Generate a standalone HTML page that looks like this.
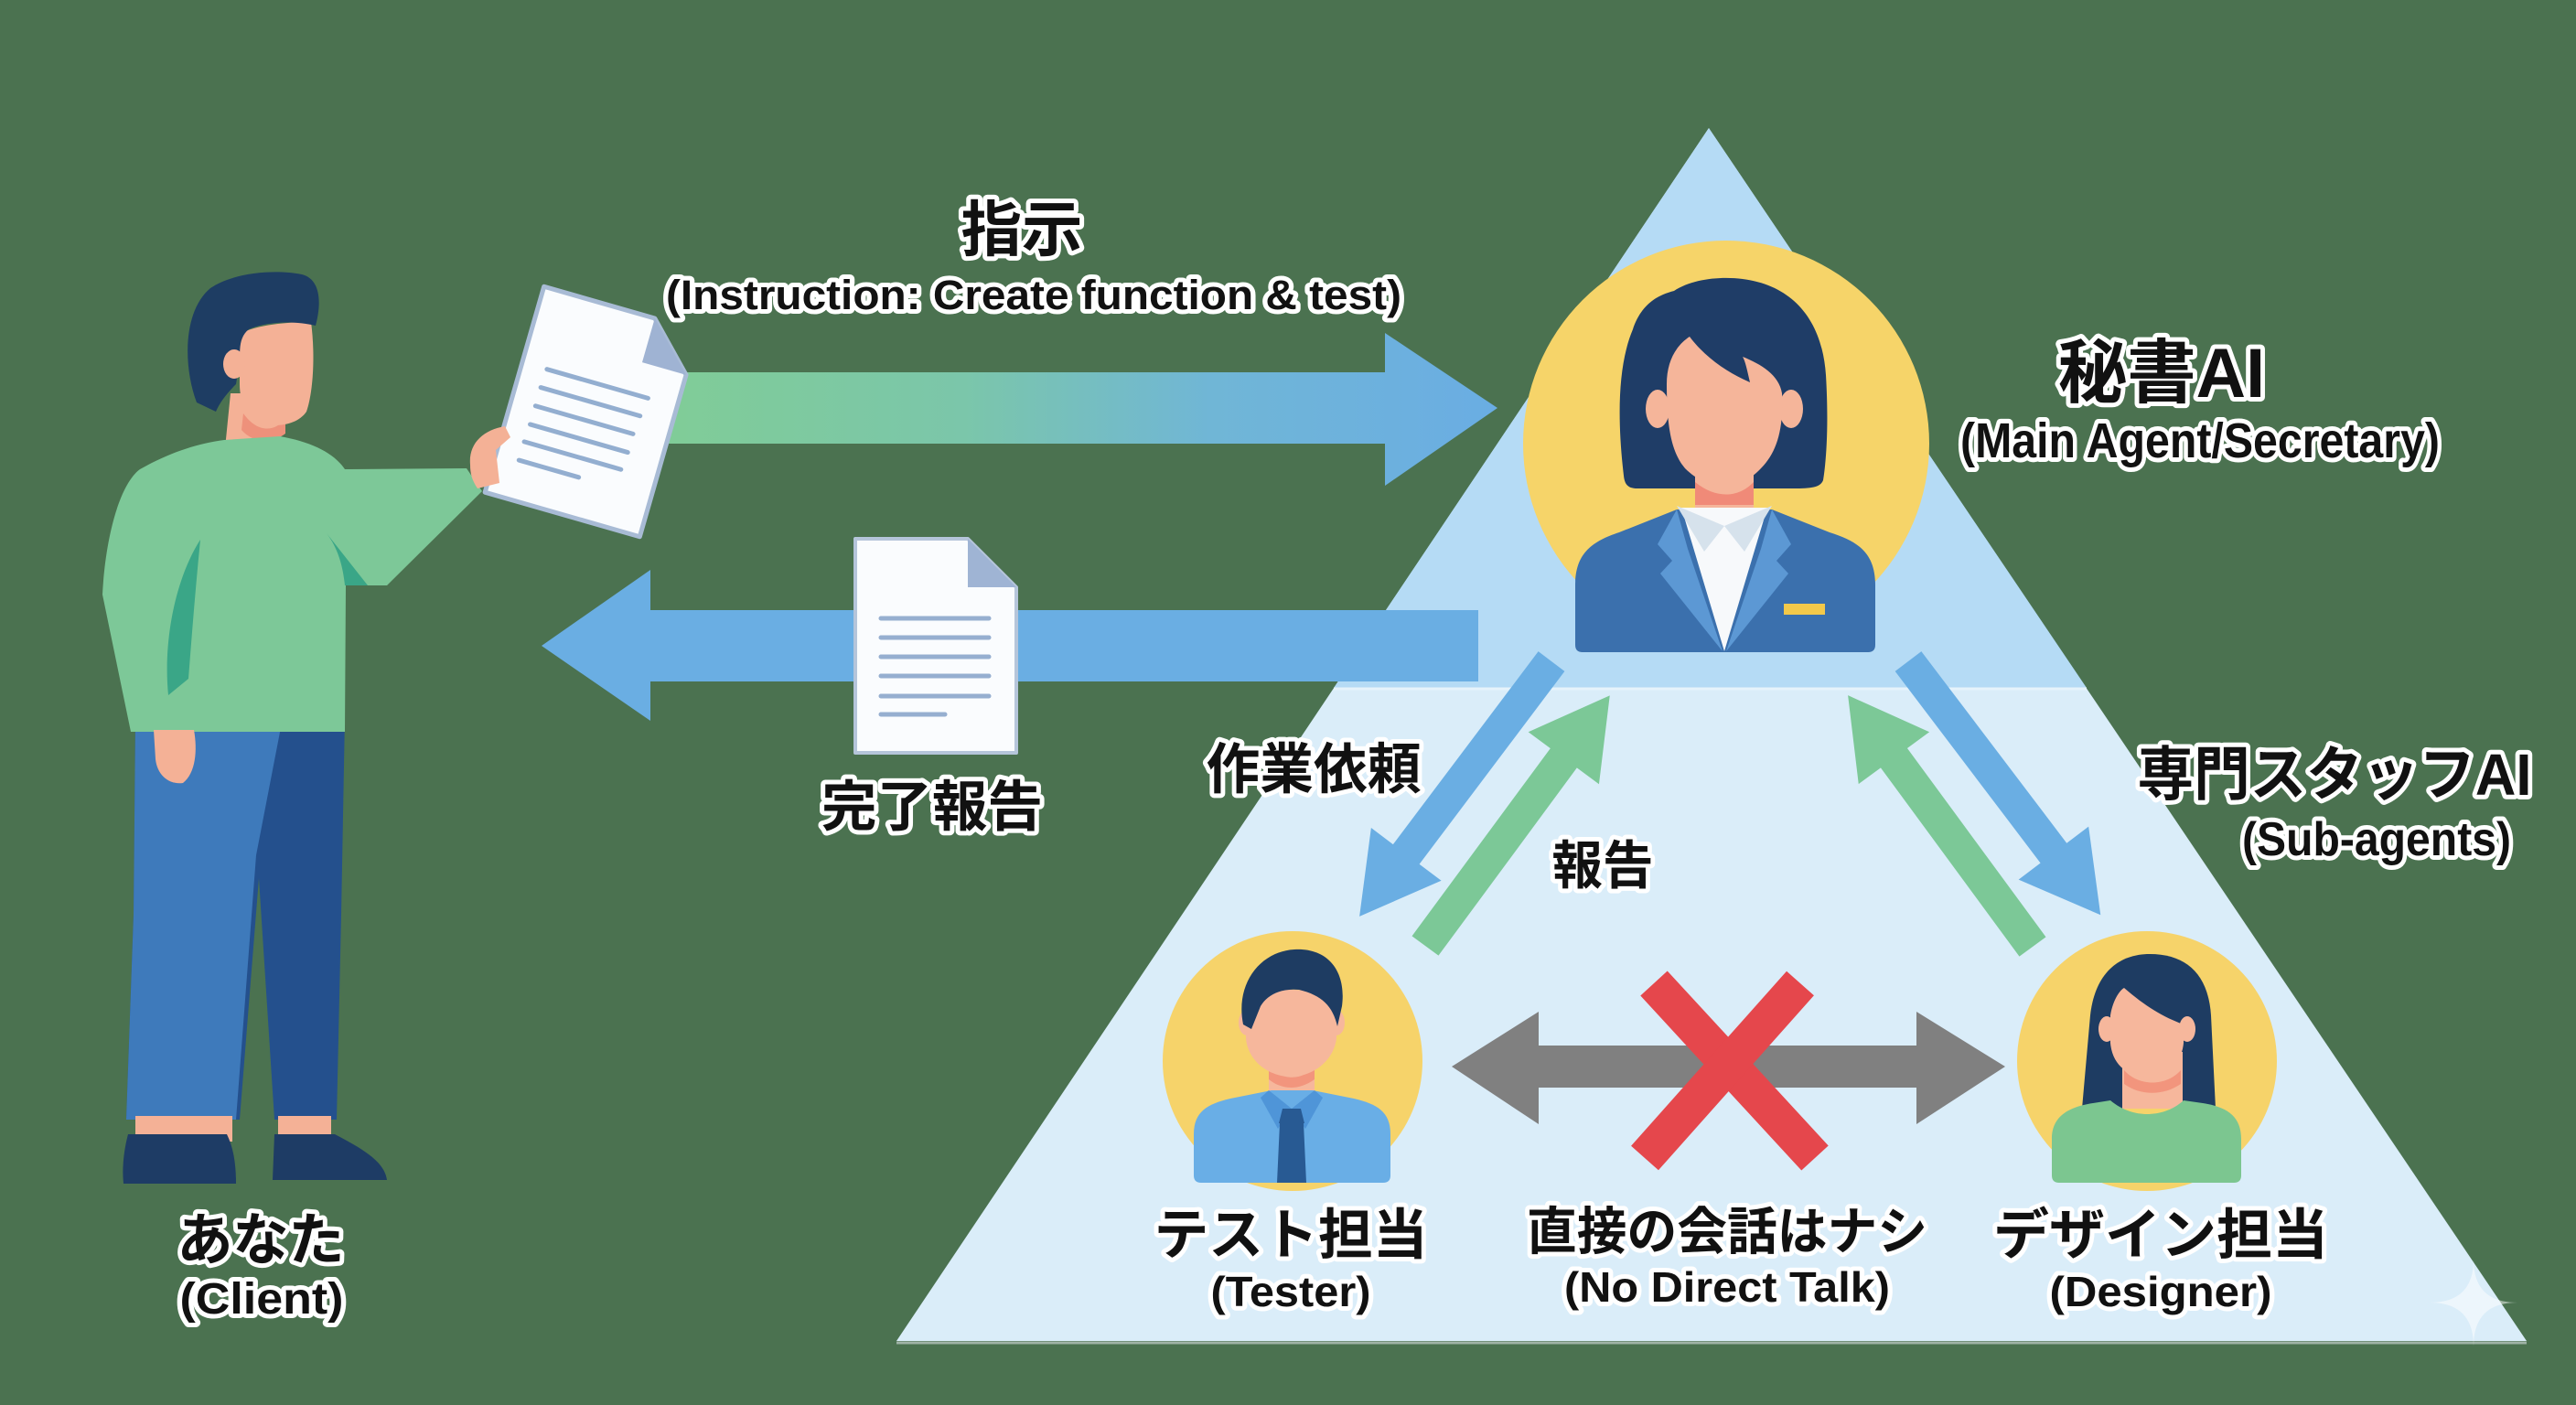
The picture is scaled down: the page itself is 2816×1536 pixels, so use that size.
<!DOCTYPE html>
<html><head><meta charset="utf-8"><style>
html,body{margin:0;padding:0;background:#4b7250;}
svg{display:block;}
.t{font-family:"Liberation Sans","Noto Sans CJK JP",sans-serif;font-weight:bold;fill:#111;stroke:#fff;stroke-width:10;stroke-linejoin:round;paint-order:stroke fill;text-anchor:middle;}
</style></head><body>
<svg width="2816" height="1536" viewBox="0 0 2816 1536" xmlns="http://www.w3.org/2000/svg">
<defs>
<linearGradient id="g1" gradientUnits="userSpaceOnUse" x1="740" y1="0" x2="1637" y2="0">
<stop offset="0" stop-color="#80cc98"/><stop offset="0.35" stop-color="#7bc6aa"/><stop offset="0.65" stop-color="#70b6d6"/><stop offset="1" stop-color="#6aade3"/>
</linearGradient>
</defs>
<rect width="2816" height="1536" fill="#4b7250"/>

<!-- triangle -->
<polygon points="1868,140 2762,1466 980,1466" fill="#daedf9"/>
<polygon points="1868,140 2281,752 1458,752" fill="#b5dbf5"/>
<line x1="1458" y1="753" x2="2281" y2="753" stroke="#e6f3fb" stroke-width="3"/>
<line x1="980" y1="1468" x2="2762" y2="1468" stroke="#9fb3a6" stroke-width="3"/>

<!-- top arrow -->
<polygon points="730,407 1514,407 1514,364 1637,446 1514,531 1514,485 730,485" fill="url(#g1)"/>
<!-- left arrow -->
<polygon points="1616,667 711,667 711,623 592,706 711,788 711,745 1616,745" fill="#6aaee3"/>

<!-- doc 2 -->
<path d="M935,589 L1058,589 L1111,642 L1111,823 L935,823 Z" fill="#fafcfe" stroke="#b5c5da" stroke-width="4" stroke-linejoin="round"/>
<path d="M1058,589 L1058,642 L1111,642 Z" fill="#9fb4d4"/>
<g stroke="#96afd0" stroke-width="5" stroke-linecap="round">
<line x1="963" y1="676" x2="1081" y2="676"/><line x1="963" y1="697" x2="1081" y2="697"/>
<line x1="963" y1="718" x2="1081" y2="718"/><line x1="963" y1="739" x2="1081" y2="739"/>
<line x1="963" y1="761" x2="1081" y2="761"/><line x1="963" y1="781" x2="1033" y2="781"/>
</g>

<!-- man -->
<g>
<!-- neck -->
<path d="M252,430 L306,430 L307,490 L246,490 Z" fill="#f4b196"/>
<path d="M266,452 C282,474 300,472 312,458 L312,474 C296,486 276,484 264,470 Z" fill="#ee917b"/>
<!-- pants -->
<path d="M148,790 L377,783 L373,1000 L368,1224 L300,1224 L283,960 L262,1224 L138,1224 L146,1000 Z" fill="#24508d"/>
<path d="M148,790 L308,790 L280,935 L258,1224 L138,1224 L146,1000 Z" fill="#3e7abb"/>
<!-- ankles -->
<rect x="148" y="1220" width="106" height="28" fill="#f4b196"/>
<rect x="304" y="1220" width="58" height="28" fill="#f4b196"/>
<!-- shoes -->
<path d="M140,1240 L248,1240 C256,1256 258,1276 258,1294 L135,1294 C133,1275 136,1255 140,1240 Z" fill="#1e3c65"/>
<path d="M300,1240 L366,1240 C392,1254 420,1268 423,1290 L298,1290 Z" fill="#1e3c65"/>
<!-- sweater -->
<path d="M245,481 L306,477 C340,483 365,495 377,513 L510,512 L527,537 L423,640 L378,640 L377,800 L143,800 L112,650 C115,590 130,530 153,513 C185,495 215,485 245,481 Z" fill="#7dc898"/>
<path d="M219,590 C192,632 178,700 184,760 L206,742 C210,690 214,640 219,590 Z" fill="#3aa687"/>
<path d="M357,583 C370,600 375,620 377,640 L402,640 Z" fill="#3aa687"/>
<!-- left hand -->
<path d="M168,798 L212,798 C216,820 214,845 200,856 C185,858 172,848 170,830 Z" fill="#f4b196"/>
<!-- face -->
<path d="M262,365 C280,355 315,352 340,352 C345,390 342,430 335,450 C325,465 300,468 285,462 C270,455 262,440 262,420 Z" fill="#f4b196"/>
<!-- hair -->
<path d="M215,440 C200,400 200,340 230,315 C255,298 300,294 330,300 C350,305 352,330 345,356 C320,350 290,352 272,360 C262,368 262,380 262,395 L258,420 C248,430 240,440 236,450 Z" fill="#1e3d63"/>
<ellipse cx="256" cy="398" rx="12" ry="16" fill="#f4b196"/>
</g>

<!-- doc 1 -->
<g transform="translate(647,450) rotate(16)">
<path d="M-88,-117 L38,-117 L88,-67 L88,117 L-88,117 Z" fill="#fafcfe" stroke="#a8bbd5" stroke-width="5" stroke-linejoin="round"/>
<path d="M38,-117 L38,-67 L88,-67 Z" fill="#9fb3d3"/>
<g stroke="#93aed0" stroke-width="5" stroke-linecap="round">
<line x1="-60" y1="-31" x2="55" y2="-31"/><line x1="-61" y1="-10" x2="52" y2="-10"/>
<line x1="-61" y1="11" x2="50" y2="11"/><line x1="-61" y1="32" x2="50" y2="32"/>
<line x1="-62" y1="52" x2="48" y2="52"/><line x1="-62" y1="73" x2="6" y2="73"/>
</g>
</g>
<!-- right hand -->
<path d="M514,508 C512,485 528,470 552,466 L558,478 L542,492 L546,528 L522,534 C516,525 514,518 514,508 Z" fill="#f4b196"/>

<!-- secretary -->
<circle cx="1887" cy="485" r="222" fill="#f6d469"/>
<path d="M1775,520 C1768,460 1768,400 1785,360 C1795,330 1815,322 1830,318 C1850,305 1880,302 1905,305 C1960,312 1992,350 1996,410 C1999,460 1997,500 1993,525 C1990,533 1980,534 1960,534 L1790,534 C1780,534 1776,530 1775,520 Z" fill="#1f3d67"/>
<path d="M1853,505 L1917,505 L1917,560 L1853,560 Z" fill="#f5b59a"/>
<path d="M1853,527 C1875,545 1900,545 1917,527 L1917,552 L1853,552 Z" fill="#f08a78"/>
<path d="M1722,712 L1722,640 C1722,605 1740,592 1770,582 L1833,557 L1937,557 L2000,582 C2032,592 2050,605 2050,640 L2050,705 Q2050,713 2042,713 L1730,713 Q1722,713 1722,705 Z" fill="#3b70ad"/>
<polygon points="1838,555 1932,555 1885,712" fill="#f7f9fb"/>
<polygon points="1833,553 1885,575 1863,603" fill="#d6e2ec"/>
<polygon points="1937,553 1885,575 1907,603" fill="#d6e2ec"/>
<polygon points="1833,557 1812,595 1828,613 1815,627 1883,712 1845,600" fill="#5c98d4"/>
<polygon points="1937,557 1958,595 1942,613 1955,627 1887,712 1925,600" fill="#5c98d4"/>
<rect x="1950" y="660" width="45" height="12" fill="#f3c94a"/>
<ellipse cx="1812" cy="447" rx="13" ry="21" fill="#f5b59a"/>
<ellipse cx="1958" cy="447" rx="13" ry="21" fill="#f5b59a"/>
<path d="M1822,420 C1822,395 1832,378 1847,368 C1865,392 1890,408 1913,418 C1910,405 1908,395 1905,390 C1925,398 1945,410 1948,430 C1950,470 1942,495 1925,512 C1910,528 1895,531 1885,531 C1870,531 1855,525 1842,512 C1828,495 1822,470 1822,420 Z" fill="#f5b59a"/>

<!-- triangle arrows -->
<polygon transform="translate(1696,723) rotate(126.97)" points="0,-18 264,-18 264,-48 349,0 264,48 264,18 0,18" fill="#6aaee3"/>
<polygon transform="translate(1558,1034) rotate(-53.6)" points="0,-18 255,-18 255,-48 340,0 255,48 255,18 0,18" fill="#7cc897"/>
<polygon transform="translate(2086,723) rotate(52.83)" points="0,-18 263,-18 263,-48 348,0 263,48 263,18 0,18" fill="#6aaee3"/>
<polygon transform="translate(2222,1035) rotate(-126.3)" points="0,-18 256,-18 256,-48 341,0 256,48 256,18 0,18" fill="#7cc897"/>

<!-- tester -->
<circle cx="1413" cy="1160" r="142" fill="#f6d36a"/>
<rect x="1387" y="1150" width="50" height="55" fill="#f6b79c"/>
<path d="M1387,1165 C1400,1182 1425,1182 1437,1165 L1437,1180 C1420,1192 1402,1192 1387,1180 Z" fill="#f2957d"/>
<path d="M1305,1285 L1305,1240 C1305,1215 1320,1207 1345,1201 L1390,1192 L1435,1192 L1480,1201 C1505,1207 1520,1215 1520,1240 L1520,1285 Q1520,1293 1512,1293 L1313,1293 Q1305,1293 1305,1285 Z" fill="#69aee6"/>
<polygon points="1387,1192 1412,1212 1397,1234 1378,1200" fill="#4f95d8"/>
<polygon points="1437,1192 1412,1212 1427,1234 1446,1200" fill="#4f95d8"/>
<polygon points="1402,1212 1422,1212 1426,1228 1398,1228" fill="#285a93"/>
<polygon points="1399,1228 1425,1228 1428,1293 1396,1293" fill="#285a93"/>
<ellipse cx="1363" cy="1118" rx="9" ry="14" fill="#f6b79c"/>
<ellipse cx="1461" cy="1118" rx="9" ry="14" fill="#f6b79c"/>
<path d="M1362,1105 C1364,1090 1382,1082 1411,1082 C1440,1082 1458,1090 1461,1105 L1461,1135 C1458,1160 1435,1177 1411,1177 C1387,1177 1364,1160 1362,1135 Z" fill="#f6b79c"/>
<path d="M1359,1120 C1350,1075 1378,1040 1415,1038 C1452,1036 1472,1062 1467,1100 L1462,1122 C1457,1100 1445,1088 1420,1082 C1400,1080 1385,1088 1378,1100 L1368,1125 Z" fill="#1e3c62"/>

<!-- designer -->
<circle cx="2347" cy="1160" r="142" fill="#f6d36a"/>
<path d="M2276,1212 L2285,1110 C2290,1065 2315,1043 2350,1043 C2390,1043 2414,1065 2417,1110 L2422,1212 Z" fill="#1e3c62"/>
<rect x="2320" y="1150" width="66" height="62" fill="#f6b79c"/>
<path d="M2322,1170 C2338,1188 2368,1188 2384,1170 L2384,1185 C2365,1198 2340,1198 2322,1185 Z" fill="#f2957d"/>
<path d="M2243,1285 L2243,1245 C2243,1220 2262,1210 2288,1206 L2307,1203 C2320,1214 2335,1218 2347,1218 C2360,1218 2375,1214 2387,1203 L2408,1206 C2434,1210 2450,1220 2450,1245 L2450,1285 Q2450,1293 2442,1293 L2251,1293 Q2243,1293 2243,1285 Z" fill="#7cc690"/>
<ellipse cx="2303" cy="1125" rx="9" ry="14" fill="#f6b79c"/>
<ellipse cx="2391" cy="1125" rx="9" ry="14" fill="#f6b79c"/>
<path d="M2307,1110 C2310,1092 2318,1082 2322,1080 C2345,1100 2365,1112 2387,1120 L2387,1140 C2385,1165 2366,1177 2347,1177 C2327,1177 2309,1165 2307,1140 Z" fill="#f6b79c"/>

<!-- gray double arrow -->
<polygon points="1587,1166 1682,1106 1682,1143 2095,1143 2095,1106 2192,1166 2095,1229 2095,1189 1682,1189 1682,1229" fill="#808080"/>
<!-- red X -->
<g stroke="#e5474c" stroke-width="40">
<line x1="1808" y1="1075" x2="1984" y2="1266"/>
<line x1="1968" y1="1075" x2="1798" y2="1266"/>
</g>

<!-- texts -->
<text class="t" x="1117" y="274" font-size="66" textLength="133" lengthAdjust="spacingAndGlyphs">指示</text>
<text class="t" x="1130" y="338" font-size="45" textLength="804" lengthAdjust="spacingAndGlyphs">(Instruction: Create function &amp; test)</text>
<text class="t" x="2363" y="434" font-size="76" textLength="226" lengthAdjust="spacingAndGlyphs">秘書AI</text>
<text class="t" x="2405" y="500" font-size="54" textLength="524" lengthAdjust="spacingAndGlyphs">(Main Agent/Secretary)</text>
<text class="t" x="1019" y="903" font-size="60" textLength="242" lengthAdjust="spacingAndGlyphs">完了報告</text>
<text class="t" x="1436" y="862" font-size="60" textLength="235" lengthAdjust="spacingAndGlyphs">作業依頼</text>
<text class="t" x="1752" y="966" font-size="57" textLength="111" lengthAdjust="spacingAndGlyphs">報告</text>
<text class="t" x="2552" y="869" font-size="64" textLength="431" lengthAdjust="spacingAndGlyphs">専門スタッフAI</text>
<text class="t" x="2598" y="935" font-size="52" textLength="294" lengthAdjust="spacingAndGlyphs">(Sub-agents)</text>
<text class="t" x="285" y="1377" font-size="62" textLength="183" lengthAdjust="spacingAndGlyphs">あなた</text>
<text class="t" x="286" y="1436" font-size="48" textLength="179" lengthAdjust="spacingAndGlyphs">(Client)</text>
<text class="t" x="1411" y="1371" font-size="60" textLength="299" lengthAdjust="spacingAndGlyphs">テスト担当</text>
<text class="t" x="1411" y="1428" font-size="46" textLength="175" lengthAdjust="spacingAndGlyphs">(Tester)</text>
<text class="t" x="1888" y="1366" font-size="56" textLength="438" lengthAdjust="spacingAndGlyphs">直接の会話はナシ</text>
<text class="t" x="1888" y="1423" font-size="46" textLength="356" lengthAdjust="spacingAndGlyphs">(No Direct Talk)</text>
<text class="t" x="2362" y="1371" font-size="60" textLength="366" lengthAdjust="spacingAndGlyphs">デザイン担当</text>
<text class="t" x="2362" y="1428" font-size="46" textLength="243" lengthAdjust="spacingAndGlyphs">(Designer)</text>

<!-- sparkle -->
<path d="M2704,1377 Q2704,1424 2752,1424 Q2704,1424 2704,1472 Q2704,1424 2656,1424 Q2704,1424 2704,1377 Z" fill="#ffffff" opacity="0.5"/>
</svg>
</body></html>
